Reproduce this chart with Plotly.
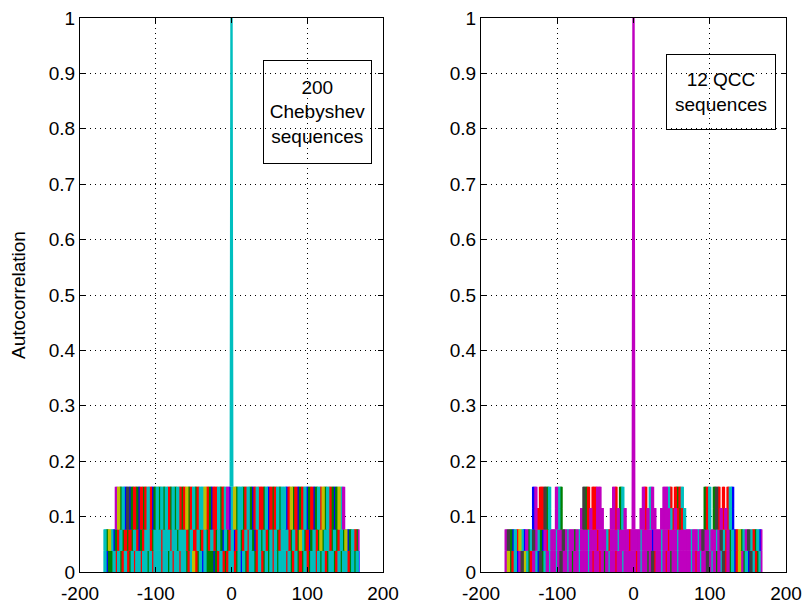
import plotly.graph_objects as go

# ---------------- data ----------------
# lags of the autocorrelation (sequence length 169)
LAG_MIN, LAG_MAX = -168, 168
BLOCK = 3  # lags per character in the band strings below

# autocorrelation levels
levels = [0.0, 0.0385, 0.0769, 0.1154, 0.1538]
peak_lag = 0
peak_value = 1.0

# MATLAB default line colour order
color_map = {
    "b": "#0000FF", "g": "#008000", "r": "#FF0000", "c": "#00BFBF",
    "m": "#BF00BF", "y": "#BFBF00", "k": "#404040",
}

# visible (top-most) sequence colour per block of lags, per level band
# '.' = no sequence reaches that band
cheb_low = ("cbggcrcgrcrgcrccrccgcrcccrccgcrccrc"
            "cgrcyrgcbcgggbgrcrgrccrgcbcgrccgrcrgcgcrcgcc"
            "crcgrcgrgcrgccrcgcrgccgrcgccrgcgcb")
cheb_mid = ("cgycbgrcgrgrgcrbgrccrgcccrcccrccgcc"
            "crgcrrcgrcgrcrgcgbcgrcbrcgrcrcgbrcgcrgcrcgrc"
            "ccrgcrgycgrbgcrgygccrgcgrcgybgcrgm")
cheb_high = (".....m" "ygcbkbgrgbrgrcrbgcgcgcrgcgcrg"
             "rygrcgrccyrgbrrcgrcmbcygccgrcgbrcrrgcbrgrcgc"
             "cbrygrbgrcbgrbgcrygcrgbgycm" ".......")

qcc_low = ("mygrcbmkycgrmcbkgcmc" "mmcmkmmcmgmmcm"
           "mmcmrmmrmgmcmmrmmcmmmmmrmcmmgmkrmmcmrmgmmcmmm"
           "mmcmrmcmmkmcmgm" "ckrmgcbrymgcbkcrgcm")
qcc_mid = ("mkgbcrycbmgckmcgbmrc" "mmcmmkmcmmgmcm"
           "mmcmmmrmmmcrmmmcmmmmrmmmmcmmmmbmmmcmmrmmmcmmm"
           "mmcmmcmkmmcmmcm" "kcrmgcbrygcmkcrgcbm")
qcc_high1 = ("............" "bmrrrkgc" ".." "mcg" "........"
             "mkgrmrrmmm" "..." "mmrmgcm" "......" "mmrmcmm" ".."
             "mmmmcrmrgrc" "........" "grc" "." "gkrmrmrcb" ".............")
qcc_high2 = ("............" "bm.rrkgc" ".." "mcg" "........."
             "kgr.rrmm" "....." "mr.gc" "........" "mr.cm" "...."
             "mmcr.rgrc" "........." "grc" "." "gkr.r.rcb" ".............")

# (lower level index, upper level index, band string)
cheb_bands = [(0, 1, cheb_low), (1, 2, cheb_mid), (2, 4, cheb_high)]
qcc_bands = [(0, 1, qcc_low), (1, 2, qcc_mid), (2, 3, qcc_high1), (3, 4, qcc_high2)]

x_ticks = [-200, -100, 0, 100, 200]
x_tick_text = ["-200", "-100", "0", "100", "200"]
y_ticks = [0, 0.1, 0.2, 0.3, 0.4, 0.5, 0.6, 0.7, 0.8, 0.9, 1]

FONT = "Liberation Sans, Arial, Helvetica, sans-serif"
FS = 19

fig = go.Figure()


def add_bands(bands, xa, ya):
    for lo, hi, s in bands:
        segs = {}
        for i, ch in enumerate(s):
            if ch == ".":
                continue
            for lag in range(LAG_MIN + BLOCK * i, LAG_MIN + BLOCK * (i + 1)):
                if lag > LAG_MAX:
                    continue
                xs, ys = segs.setdefault(ch, ([], []))
                xs += [lag, lag, None]
                ys += [levels[lo], levels[hi], None]
        for ch in "bgrcmyk":
            if ch not in segs:
                continue
            xs, ys = segs[ch]
            fig.add_trace(go.Scatter(
                x=xs, y=ys, mode="lines", xaxis=xa, yaxis=ya,
                line=dict(color=color_map[ch], width=1.8),
                hoverinfo="skip", showlegend=False))


add_bands(cheb_bands, "x", "y")
add_bands(qcc_bands, "x2", "y2")

# main peaks (last drawn sequence colour on top), rising from the band top
for xa, ya, c, base in (("x", "y", "c", 4), ("x2", "y2", "m", 2)):
    fig.add_trace(go.Scatter(
        x=[peak_lag - 1, peak_lag, peak_lag + 1],
        y=[levels[base], peak_value, levels[base]],
        mode="lines", xaxis=xa, yaxis=ya,
        line=dict(color=color_map[c], width=2.4),
        hoverinfo="skip", showlegend=False))

axis_common = dict(
    showline=True, linecolor="black", linewidth=1, mirror="ticks",
    ticks="inside", ticklen=5, tickcolor="black", tickwidth=1,
    showgrid=True, gridcolor="black", gridwidth=1, griddash="1px,4px",
    zeroline=False, automargin=False,
    tickfont=dict(family=FONT, size=FS, color="black"),
)

W, H = 803, 605
ml, mr, mt, mb = 80, 17, 18, 33
pw = W - ml - mr

fig.update_layout(
    width=W, height=H,
    margin=dict(l=ml, r=mr, t=mt, b=mb, autoexpand=False),
    paper_bgcolor="white", plot_bgcolor="white",
    font=dict(family=FONT, size=FS, color="black"),
    xaxis=dict(domain=[0, 303 / pw], range=[-200, 200], tickvals=x_ticks,
               ticktext=x_tick_text, anchor="y", ticklabelstandoff=4,
               **axis_common),
    yaxis=dict(domain=[0, 1], range=[0, 1], tickvals=y_ticks, anchor="x",
               title=dict(text="Autocorrelation", standoff=18,
                          font=dict(family=FONT, size=FS, color="black")),
               **axis_common),
    xaxis2=dict(domain=[401 / pw, 1], range=[-200, 200], tickvals=x_ticks,
                ticktext=x_tick_text, anchor="y2", ticklabelstandoff=4,
                **axis_common),
    yaxis2=dict(domain=[0, 1], range=[0, 1], tickvals=y_ticks, anchor="x2",
                **axis_common),
    annotations=[
        dict(text="200<br>Chebyshev<br>sequences", x=113.5, y=0.83,
             xref="x", yref="y", showarrow=False, width=107, height=102,
             bordercolor="black", borderwidth=1, borderpad=0,
             font=dict(family=FONT, size=FS, color="black"),
             xanchor="center", yanchor="middle"),
        dict(text="12 QCC<br>sequences", x=114.8, y=0.866,
             xref="x2", yref="y2", showarrow=False, width=108, height=74,
             bordercolor="black", borderwidth=1, borderpad=0,
             font=dict(family=FONT, size=FS, color="black"),
             xanchor="center", yanchor="middle"),
    ],
)

fig.write_html("out.html")
